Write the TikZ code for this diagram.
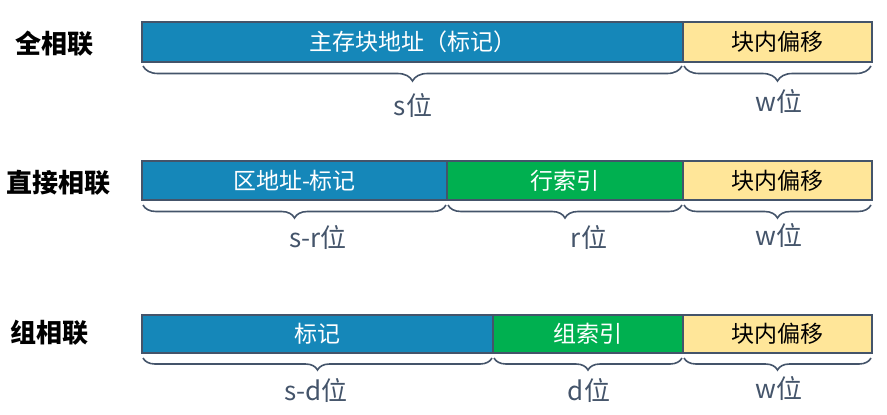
\documentclass[tikz,border=0pt]{standalone}
\usepackage{fontspec}
\setmainfont{Noto Sans CJK SC}
\usetikzlibrary{decorations.pathreplacing}
\definecolor{cblue}{HTML}{1587B9}
\definecolor{cgreen}{HTML}{00B050}
\definecolor{cyel}{HTML}{FFE699}
\definecolor{cedge}{HTML}{44546A}
\tikzset{
  field/.style={draw=cedge, line width=1.8pt, inner sep=0pt, outer sep=0pt, anchor=west,
    font=\fontsize{23}{26}\selectfont},
  bluef/.style={field, fill=cblue, text=white},
  greenf/.style={field, fill=cgreen, text=white},
  yelf/.style={field, fill=cyel, text=black},
  rowlab/.style={font=\fontsize{26}{30}\selectfont\bfseries, text=black},
  bitlab/.style={font=\fontsize{26}{30}\selectfont, text=cedge},
  br/.style={draw=cedge, line width=1.6pt, decorate, decoration={brace, mirror, amplitude=#1}},
}
\begin{document}
\begin{tikzpicture}[x=1pt,y=-1pt]
\useasboundingbox (0,0) rectangle (887,415);
% Row 1
\node[rowlab] (l1) at (55,44) {全相联};
\node[bluef, minimum width=541, minimum height=40] (a1) at (142,42) {主存块地址（标记）};
\node[yelf, minimum width=189, minimum height=40] (a2) at (683,42) {块内偏移};
\coordinate (b1s) at (143,66); \coordinate (b1e) at (682,66);
\coordinate (b2s) at (684,66); \coordinate (b2e) at (871,66);
\draw[br=15] (b1s) -- (b1e);
\draw[br=15] (b2s) -- (b2e);
\node[bitlab] (t1) at (413,106) {s位};
\node[bitlab] (t2) at (779,102) {w位};
% Row 2
\node[rowlab] (l2) at (58,183) {直接相联};
\node[bluef, minimum width=305, minimum height=39] (c1) at (142,180.5) {区地址-标记};
\node[greenf, minimum width=236, minimum height=39] (c2) at (447,180.5) {行索引};
\node[yelf, minimum width=189, minimum height=39] (c3) at (683,180.5) {块内偏移};
\coordinate (d1s) at (143,205); \coordinate (d1e) at (446,205);
\coordinate (d2s) at (448,205); \coordinate (d2e) at (682,205);
\coordinate (d3s) at (684,205); \coordinate (d3e) at (871,205);
\draw[br=13] (d1s) -- (d1e);
\draw[br=13] (d2s) -- (d2e);
\draw[br=13] (d3s) -- (d3e);
\node[bitlab] (u1) at (318,238) {s-r位};
\node[bitlab] (u2) at (589,238) {r位};
\node[bitlab] (u3) at (779,236) {w位};
% Row 3
\node[rowlab] (l3) at (49,333) {组相联};
\node[bluef, minimum width=351, minimum height=38] (e1) at (142,334) {标记};
\node[greenf, minimum width=190, minimum height=38] (e2) at (493,334) {组索引};
\node[yelf, minimum width=189, minimum height=38] (e3) at (683,334) {块内偏移};
\coordinate (f1s) at (143,358); \coordinate (f1e) at (492,358);
\coordinate (f2s) at (494,358); \coordinate (f2e) at (682,358);
\coordinate (f3s) at (684,358); \coordinate (f3e) at (871,358);
\draw[br=12] (f1s) -- (f1e);
\draw[br=12] (f2s) -- (f2e);
\draw[br=12] (f3s) -- (f3e);
\node[bitlab] (v1) at (316,390) {s-d位};
\node[bitlab] (v2) at (589,390) {d位};
\node[bitlab] (v3) at (779,388) {w位};
\end{tikzpicture}
\end{document}
